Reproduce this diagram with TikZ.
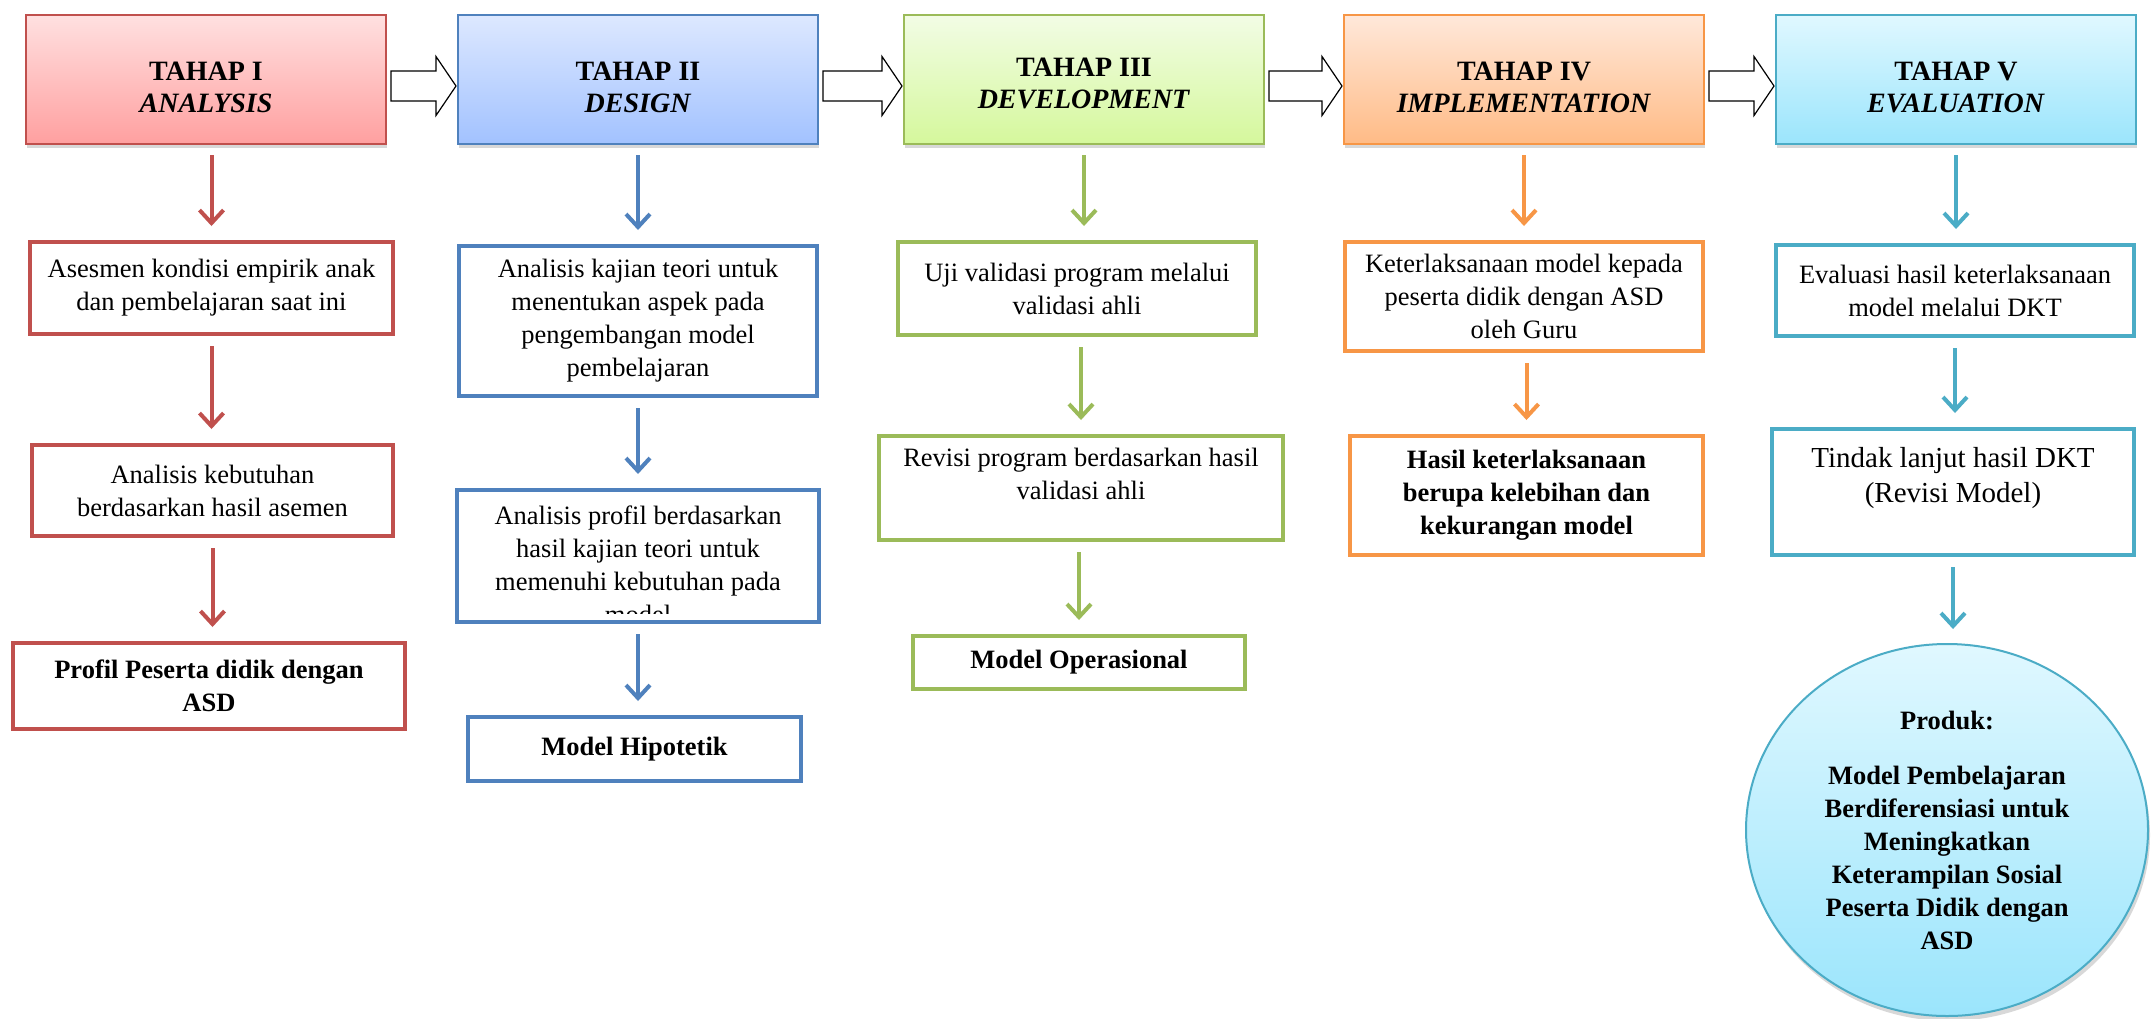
\documentclass[tikz,border=0pt]{standalone}
\usepackage{fontspec}
\setmainfont{Liberation Serif}
\usetikzlibrary{positioning,calc,shapes.geometric,shadows,arrows.meta}
\definecolor{redline}{HTML}{C0504D}
\definecolor{blueline}{HTML}{4F81BD}
\definecolor{greenline}{HTML}{9BBB59}
\definecolor{orangeline}{HTML}{F79646}
\definecolor{tealline}{HTML}{4BACC6}
\definecolor{redtop}{HTML}{FFE0E0}
\definecolor{redbot}{HTML}{FFA0A0}
\definecolor{bluetop}{HTML}{DDE8FF}
\definecolor{bluebot}{HTML}{A2C2FF}
\definecolor{greentop}{HTML}{F2FCE5}
\definecolor{greenbot}{HTML}{D5F89C}
\definecolor{orangetop}{HTML}{FFE8DA}
\definecolor{orangebot}{HTML}{FFBB86}
\definecolor{cyantop}{HTML}{E0F8FF}
\definecolor{cyanbot}{HTML}{9BE5FC}
\tikzset{
phase/.style n args={3}{
  draw=#1, line width=2pt,
  top color=#2, bottom color=#3,
  minimum width=360pt, minimum height=129pt,
  align=center, font=\fontsize{28pt}{32pt}\selectfont\bfseries,
  drop shadow={opacity=0.3, shadow xshift=1pt, shadow yshift=-4pt}
},
stepbox/.style={draw=#1, line width=4pt, fill=white, inner sep=6pt,
  align=center, font=\fontsize{26.5pt}{33pt}\selectfont},
boldbox/.style={stepbox=#1, font=\fontsize{26.5pt}{33pt}\selectfont\bfseries},
flow/.style={draw=#1, line width=4pt, -{Straight Barb[length=13pt,width=24pt]},
  shorten <=10pt, shorten >=14pt},
blockarrow/.style={draw=black, line width=1.2pt, fill=white, line join=miter},
product/.style={ellipse, draw=tealline, line width=2pt,
  top color=cyantop, bottom color=cyanbot, inner sep=0pt,
  minimum width=402pt, minimum height=372pt,
  align=center, font=\fontsize{26.5pt}{33pt}\selectfont\bfseries,
  drop shadow={opacity=0.3, shadow xshift=2pt, shadow yshift=-5pt}}
}

\begin{document}
\begin{tikzpicture}[x=1pt, y=-1pt]
\path[use as bounding box, fill=white] (0,0) rectangle (2151,1018);

% tahap
\node[phase={redline}{redtop}{redbot}] (h1) at (206,79.5) {\mbox{}\\[2pt]TAHAP I\\\textit{ANALYSIS}};
\node[phase={blueline}{bluetop}{bluebot}] (h2) at (638,79.5) {\mbox{}\\[2pt]TAHAP II\\\textit{DESIGN}};
\node[phase={greenline}{greentop}{greenbot}] (h3) at (1084,79.5) {\mbox{}\\[-6pt]TAHAP III\\\textit{DEVELOPMENT}};
\node[phase={orangeline}{orangetop}{orangebot}] (h4) at (1524,79.5) {\mbox{}\\[2pt]TAHAP IV\\\textit{IMPLEMENTATION}};
\node[phase={tealline}{cyantop}{cyanbot}] (h5) at (1956,79.5) {\mbox{}\\[2pt]TAHAP V\\\textit{EVALUATION}};

\foreach \a/\b in {h1/h2,h2/h3,h3/h4,h4/h5}
  \draw[blockarrow] ($(\a.east)+(4,-8.5)$) -- ($(\b.west)+(-21,-8.5)$)
    -- ($(\b.west)+(-21,-23)$) -- ($(\b.west)+(-1,6.5)$) -- ($(\b.west)+(-21,36)$)
    -- ($(\b.west)+(-21,21.5)$) -- ($(\a.east)+(4,21.5)$) -- cycle;

% analysis
\node[stepbox=redline, minimum width=363pt, minimum height=92pt] (a1) at (211.5,288)
  {Asesmen kondisi empirik anak\\dan pembelajaran saat ini};
\node[stepbox=redline, minimum width=361pt, minimum height=91pt] (a2) at (212.5,490.5)
  {Analisis kebutuhan\\berdasarkan hasil asemen};
\node[boldbox=redline, minimum width=392pt, minimum height=86pt] (a3) at (209,686)
  {Profil Peserta didik dengan\\ASD};

% design
\node[stepbox=blueline, minimum width=358pt, minimum height=150pt] (b1) at (638,321)
  {Analisis kajian teori untuk\\menentukan aspek pada\\pengembangan model\\pembelajaran};
\node[stepbox=blueline, minimum width=362pt, minimum height=132pt] (b2) at (638,556) {};
\begin{scope}
  \clip ($(b2.south west)+(4,-11)$) rectangle ($(b2.north east)+(-4,4)$);
  \node[stepbox=white, draw=none, fill=none, anchor=north] (b2text) at ($(b2.north)+(0,10)$)
    {Analisis profil berdasarkan\\hasil kajian teori untuk\\memenuhi kebutuhan pada\\model};
\end{scope}
\node[boldbox=blueline, minimum width=333pt, minimum height=64pt] (b3) at (634.5,749)
  {Model Hipotetik};

% development
\node[stepbox=greenline, minimum width=358pt, minimum height=93pt] (c1) at (1077,288.5)
  {Uji validasi program melalui\\validasi ahli};
\node[stepbox=greenline, minimum width=404pt, minimum height=104pt] (c2) at (1081,488)
  {Revisi program berdasarkan hasil\\validasi ahli\\[-4pt]\mbox{}};
\node[boldbox=greenline, minimum width=332pt, minimum height=53pt] (c3) at (1079,662.5)
  {Model Operasional};

% implementation
\node[stepbox=orangeline, minimum width=358pt, minimum height=109pt] (d1) at (1524,296.5)
  {Keterlaksanaan model kepada\\peserta didik dengan ASD\\oleh Guru};
\node[boldbox=orangeline, minimum width=353pt, minimum height=119pt] (d2) at (1526.5,495.5)
  {Hasil keterlaksanaan\\berupa kelebihan dan\\kekurangan model};

% evaluation
\node[stepbox=tealline, minimum width=358pt, minimum height=91pt] (e1) at (1955,290.5)
  {Evaluasi hasil keterlaksanaan\\model melalui DKT};
\node[stepbox=tealline, minimum width=362pt, minimum height=126pt,
  font=\fontsize{29pt}{35pt}\selectfont] (e2) at (1953,492)
  {Tindak lanjut hasil DKT\\(Revisi Model)\\\mbox{}};
\node[product] (e3) at (1947,830)
  {Produk:\\[22pt]Model Pembelajaran\\Berdiferensiasi untuk\\Meningkatkan\\Keterampilan Sosial\\Peserta Didik dengan\\ASD};

% alur
\draw[flow=redline] (a1.north |- h1.south) -- (a1.north);
\draw[flow=redline] (a1.south) -- (a1.south |- a2.north);
\draw[flow=redline] (a2.south) -- (a2.south |- a3.north);
\draw[flow=blueline] (b1.north |- h2.south) -- (b1.north);
\draw[flow=blueline] (b1.south) -- (b1.south |- b2.north);
\draw[flow=blueline] (b2.south) -- (b2.south |- b3.north);
\draw[flow=greenline] (h3.south) -- (h3.south |- c1.north);
\draw[flow=greenline] (c2.north |- c1.south) -- (c2.north);
\draw[flow=greenline] (c3.north |- c2.south) -- (c3.north);
\draw[flow=orangeline] (h4.south) -- (h4.south |- d1.north);
\draw[flow=orangeline] (d2.north |- d1.south) -- (d2.north);
\draw[flow=tealline] (h5.south) -- (h5.south |- e1.north);
\draw[flow=tealline] (e1.south) -- (e1.south |- e2.north);
\draw[flow=tealline] (e2.south) -- (e2.south |- e3.north);
\end{tikzpicture}
\end{document}
